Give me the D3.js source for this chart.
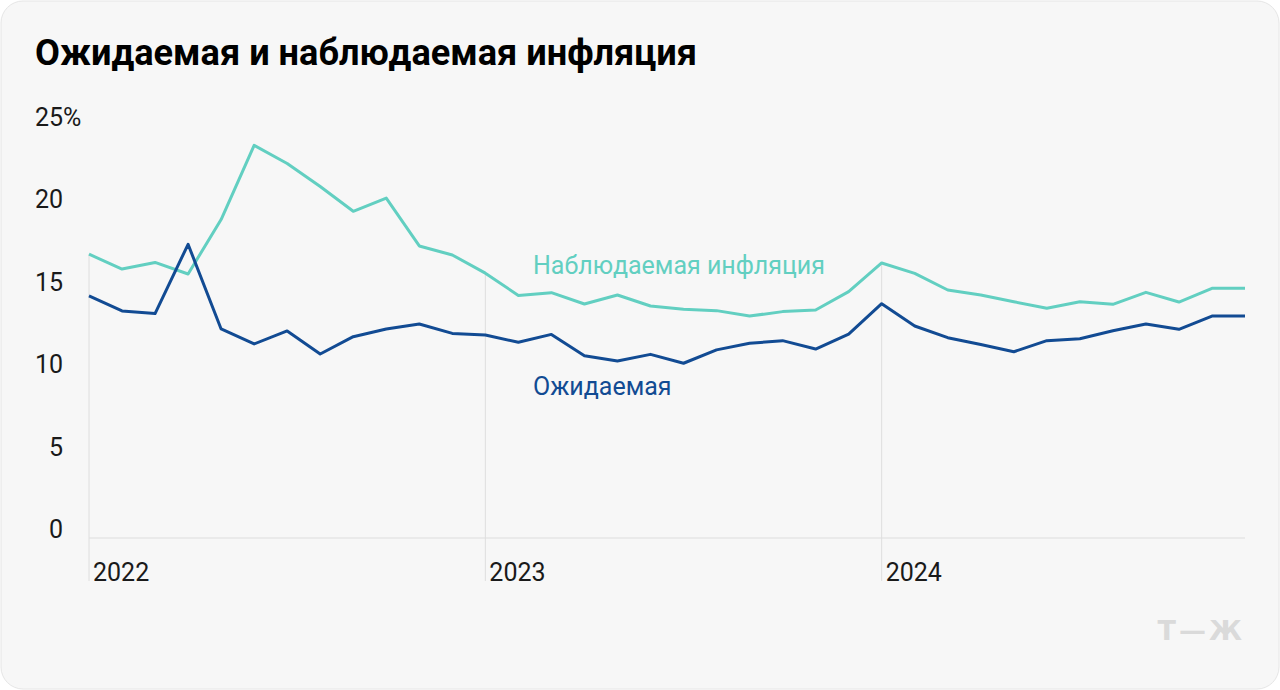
<!DOCTYPE html>
<html><head><meta charset="utf-8">
<script src="https://cdn.jsdelivr.net/npm/d3@7"></script>
<style>
html,body{margin:0;padding:0;background:#ffffff;}
svg{display:block;font-family:Roboto,"Noto Sans",sans-serif;}
</style></head>
<body><svg id="c" width="1280" height="690"></svg>
<script>
const title = "Ожидаемая и наблюдаемая инфляция";
const months = d3.range(36); // Jan 2022 .. Dec 2024, monthly index
const observed = [17.2,16.3,16.7,16.0,19.3,23.8,22.7,21.3,19.8,20.6,17.7,17.15,
  16.05,14.7,14.87,14.18,14.73,14.06,13.86,13.78,13.45,13.72,13.82,14.93,
  16.67,16.04,15.03,14.73,14.32,13.92,14.32,14.16,14.89,14.3,15.13,15.13];
const expected = [14.67,13.76,13.6,17.8,12.67,11.76,12.55,11.15,12.2,12.67,12.97,12.4,
  12.3,11.86,12.34,11.05,10.73,11.13,10.59,11.4,11.8,11.96,11.45,12.36,
  14.2,12.85,12.14,11.73,11.29,11.96,12.08,12.56,12.97,12.65,13.45,13.45];
const yTicks = [0,5,10,15,20,25];
const yearTicks = [0,12,24];
const yearLabels = ["2022","2023","2024"];
const seriesLabels = ["Наблюдаемая инфляция","Ожидаемая"];

const svg = d3.select("#c");
svg.append("rect").attr("x",1).attr("y",1).attr("width",1278).attr("height",688)
  .attr("rx",22).attr("fill","#f7f7f7").attr("stroke","#e6e6e6");

const x = d3.scaleLinear().domain([0,35]).range([89,1245]);
const y = d3.scaleLinear().domain([0,25]).range([538,125.5]);

// title
const t = svg.append("text").attr("x",35).attr("y",65).attr("font-size",34)
  .attr("font-weight",700).attr("fill","#000").text(title);
const tw = t.node().getComputedTextLength();
t.attr("font-size",34*662/tw);

// vertical year gridlines
svg.append("g").selectAll("line").data(yearTicks).join("line")
  .attr("x1",d=>x(d)).attr("x2",d=>x(d))
  .attr("y1",d=>y(observed[d])).attr("y2",581)
  .attr("stroke","#dedede").attr("stroke-width",1);
// baseline
svg.append("line").attr("x1",x(0)).attr("x2",x(35)).attr("y1",y(0)).attr("y2",y(0))
  .attr("stroke","#dedede").attr("stroke-width",1.2);

// y tick labels
const yg = svg.append("g").attr("font-size",25).attr("fill","#1a1a1a");
yTicks.forEach(v=>{
  yg.append("text").attr("x",63).attr("y",y(v)).attr("text-anchor","end").text(v);
  if(v===25) yg.append("text").attr("x",63).attr("y",y(v)).text("%");
});
// year labels
svg.append("g").attr("font-size",25).attr("fill","#1a1a1a")
  .selectAll("text").data(yearTicks).join("text")
  .attr("x",d=>x(d)+4).attr("y",581).text((d,i)=>yearLabels[i]);

const line = d3.line().x((d,i)=>x(months[i])).y(d=>y(d));
svg.append("path").datum(observed).attr("d",line).attr("fill","none")
  .attr("stroke","#62cfc1").attr("stroke-width",3).attr("stroke-linejoin","round");
svg.append("path").datum(expected).attr("d",line).attr("fill","none")
  .attr("stroke","#124b93").attr("stroke-width",3).attr("stroke-linejoin","round");

svg.append("text").attr("x",533).attr("y",274).attr("font-size",25)
  .attr("fill","#62cfc1").text(seriesLabels[0]);
svg.append("text").attr("x",533).attr("y",395).attr("font-size",25)
  .attr("fill","#124b93").text(seriesLabels[1]);

// logo
svg.append("text").attr("x",1245).attr("y",640).attr("text-anchor","end")
  .attr("font-size",27).attr("font-weight",900).attr("letter-spacing",3)
  .attr("fill","#dadada")
  .attr("font-family","'DejaVu Sans',sans-serif").text("Т—Ж");
</script></body></html>
